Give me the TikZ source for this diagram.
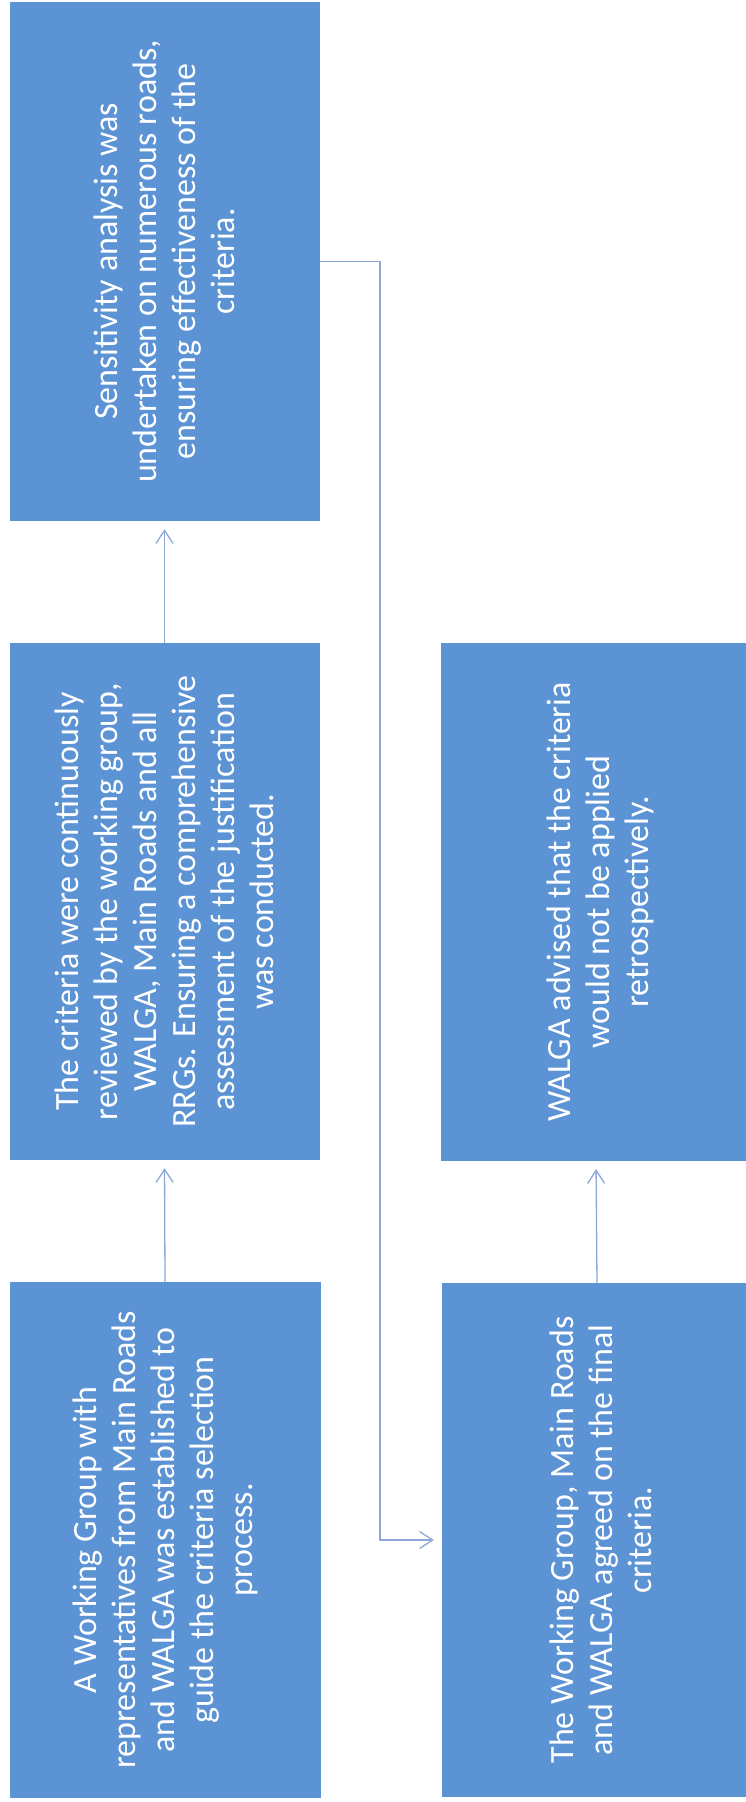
\documentclass[tikz,border=0pt]{standalone}
\usepackage{fontspec}
\setmainfont{Carlito}
\usetikzlibrary{arrows.meta}
\definecolor{boxblue}{RGB}{91,147,213}
\definecolor{linkblue}{RGB}{140,168,214}
\tikzset{
  box/.style={rectangle, fill=boxblue, draw=none, inner sep=0pt},
  boxtext/.style={rotate=90, text=white, align=center, inner sep=0pt,
    font=\fontsize{34}{39}\selectfont},
  link/.style={draw=linkblue, line width=1.3pt,
    -{Straight Barb[length=13pt,width=17pt,line width=1.3pt]}, shorten >=8pt}
}
\begin{document}
\begin{tikzpicture}[x=1pt,y=-1pt]
\useasboundingbox (0,0) rectangle (745,1802);
\fill[white] (0,0) rectangle (745,1802);
% boxes
\node[box, minimum width=310pt, minimum height=519pt] (b1) at (164.5,261.5) {};
\node[box, minimum width=310pt, minimum height=517pt] (b2) at (164.5,901.5) {};
\node[box, minimum width=311pt, minimum height=516pt] (b3) at (165,1540) {};
\node[box, minimum width=310pt, minimum height=518pt] (b4) at (596,902) {};
\node[box, minimum width=310pt, minimum height=514pt] (b5) at (597,1540) {};
% texts
\node[boxtext] (t1) at (b1.center) {Sensitivity analysis was\\undertaken on numerous roads,\\ensuring effectiveness of the\\criteria.};
\node[boxtext] (t2) at (b2.center) {The criteria were continuously\\reviewed by the working group,\\WALGA, Main Roads and all\\RRGs. Ensuring a comprehensive\\assessment of the justification\\was conducted.};
\node[boxtext] (t3) at (b3.center) {A Working Group with\\representatives from Main Roads\\and WALGA was established to\\guide the criteria selection\\process.};
\node[boxtext] (t4) at ([xshift=4pt]b4.center) {WALGA advised that the criteria\\would not be applied\\retrospectively.};
\node[boxtext] (t5) at ([xshift=4pt]b5.center) {The Working Group, Main Roads\\and WALGA agreed on the final\\criteria.};
% connectors
\draw[link] (b3.north) -- (b2.south);
\draw[link] (b2.north) -- (b1.south);
\draw[link] (b5.north) -- (b4.south);
\coordinate (c1) at (380,261.5);
\coordinate (c2) at (380,1540);
\draw[link] (b1.east) -- (c1) -- (c2) -- (b5.west);
\end{tikzpicture}
\end{document}
